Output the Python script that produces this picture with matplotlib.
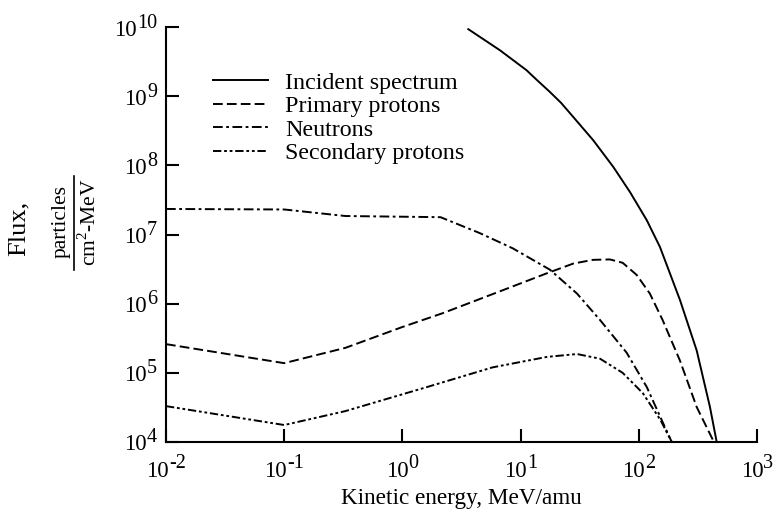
import numpy as np
import matplotlib
matplotlib.use("Agg")
import matplotlib.pyplot as plt
from matplotlib.lines import Line2D
from matplotlib.ticker import FixedLocator, NullLocator

plt.rcParams['font.family'] = ['Liberation Serif', 'DejaVu Serif']
plt.rcParams['mathtext.fontset'] = 'custom'
plt.rcParams['mathtext.rm'] = 'Liberation Serif'
plt.rcParams['lines.scale_dashes'] = False

# kinetic energy (MeV/amu) and flux (particles / cm^2-MeV)
inc_e = [3.61, 6.7, 11.2, 13.8, 17.7, 22.0, 27.9, 41.2, 60.8, 84.3, 117, 151, 184, 223, 309, 400, 456]
inc_f = [9.3e9, 4.6e9, 2.38e9, 1.7e9, 1.15e9, 8.0e8, 5.0e8, 2.3e8, 9.5e7, 4.1e7, 1.6e7, 6.6e6,
         2.7e6, 1.13e6, 2.1e5, 3.2e4, 1e4]

prim_e = [0.01, 0.1, 0.33, 1.0, 2.2, 5.9, 16.6, 27.9, 41, 57, 73, 96, 124, 159, 223, 309, 432]
prim_f = [2.6e5, 1.38e5, 2.3e5, 4.6e5, 7.3e5, 1.39e6, 2.74e6, 3.8e6, 4.3e6, 4.36e6,
          3.9e6, 2.6e6, 1.4e6, 5.8e5, 1.5e5, 3.2e4, 1e4]

neut_e = [0.01, 0.1, 0.33, 2.1, 4.5, 8.6, 17.7, 30, 47, 79, 117, 152, 190]
neut_f = [2.34e7, 2.3e7, 1.85e7, 1.78e7, 1.05e7, 6.3e6, 3.1e6, 1.4e6, 5.8e5, 1.95e5,
          6.2e4, 2.3e4, 1e4]

sec_e = [0.01, 0.1, 0.33, 1.6, 5.8, 16.7, 30, 47, 73, 108, 152, 190]
sec_f = [3.3e4, 1.76e4, 2.8e4, 6.2e4, 1.2e5, 1.7e5, 1.87e5, 1.6e5, 1e5, 5.1e4, 2.1e4, 1e4]

labels = ["Incident spectrum", "Primary protons", "Neutrons", "Secondary protons"]
x_exps = [-2, -1, 0, 1, 2, 3]
y_exps = [4, 5, 6, 7, 8, 9, 10]

W, H = 779, 513
fig = plt.figure(figsize=(W / 100, H / 100), dpi=100)
ax = fig.add_axes([166 / W, 1 - 442 / H, (757 - 166) / W, (442 - 27) / H])

lw = 1.4
ax.plot(inc_e, inc_f, color='black', lw=lw, linestyle='-', label=labels[0])
ax.plot(prim_e, prim_f, color='black', lw=lw, dashes=(7, 3), label=labels[1])
ax.plot(neut_e, neut_f, color='black', lw=lw, dashes=(7, 2.5, 2, 2.5), label=labels[2])
ax.plot(sec_e, sec_f, color='black', lw=lw, dashes=(6, 2, 2, 2, 2, 2), label=labels[3])

ax.set_xscale('log')
ax.set_yscale('log')
ax.set_xlim(10.0 ** x_exps[0], 10.0 ** x_exps[-1])
ax.set_ylim(10.0 ** y_exps[0], 10.0 ** y_exps[-1])

ax.spines['top'].set_visible(False)
ax.spines['right'].set_visible(False)
for s in ['left', 'bottom']:
    ax.spines[s].set_linewidth(1.5)

ax.xaxis.set_major_locator(FixedLocator([10.0 ** k for k in x_exps]))
ax.yaxis.set_major_locator(FixedLocator([10.0 ** k for k in y_exps]))
ax.xaxis.set_minor_locator(NullLocator())
ax.yaxis.set_minor_locator(NullLocator())
ax.tick_params(which='major', direction='in', length=9.5, width=1.5,
               labelbottom=False, labelleft=False)

# tick labels as "10" with a large superscript, like the original typesetting
renderer = fig.canvas.get_renderer()
base_fs, exp_fs = 16.5, 14.5
x0_pix, y0_pix = ax.transAxes.transform((0, 0))

def text_width(t):
    return t.get_window_extent(renderer).width

for k in y_exps:
    ypix = ax.transData.transform((10.0 ** x_exps[0], 10.0 ** k))[1]
    xr = x0_pix - 9
    te = fig.text(xr / W, (ypix - 0.5) / H, str(k), fontsize=exp_fs, ha='right', va='baseline')
    fig.text((xr - text_width(te)) / W, (ypix - 8.5) / H, "10", fontsize=base_fs,
             ha='right', va='baseline')

for k in x_exps:
    xpix = ax.transData.transform((10.0 ** k, 10.0 ** y_exps[0]))[0]
    tb = fig.text(0, 0, "10", fontsize=base_fs, ha='left', va='baseline')
    te = fig.text(0, 0, str(k), fontsize=exp_fs, ha='left', va='baseline')
    wb, we = text_width(tb), text_width(te)
    left = xpix - (wb + we) / 2
    tb.set_position((left / W, (y0_pix - 35) / H))
    te.set_position(((left + wb) / W, (y0_pix - 26) / H))

ax.set_xlabel("Kinetic energy, MeV/amu", fontsize=16.7, labelpad=33)

# y label: "Flux," and a stacked fraction
fig.text(19 / W, 1 - 228 / H, "Flux,", rotation=90, fontsize=19, ha='center', va='center')
fig.text(61 / W, 1 - 222 / H, "particles", rotation=90, fontsize=15.5, ha='center', va='center')
fig.text(90 / W, 1 - 222 / H, "cm$^2$-MeV", rotation=90, fontsize=15.5, ha='center', va='center')
fig.add_artist(Line2D([74 / W, 74 / W], [1 - 176 / H, 1 - 270 / H],
                      transform=fig.transFigure, color='black', lw=1.2))

ax.legend(loc='upper left', bbox_to_anchor=(213 / W, 1 - 72 / H),
          bbox_transform=fig.transFigure, frameon=False, fontsize=17.3,
          handlelength=2.29, handletextpad=0.71, labelspacing=0.07,
          borderpad=0, borderaxespad=0)

fig.savefig("out.png", dpi=100)
